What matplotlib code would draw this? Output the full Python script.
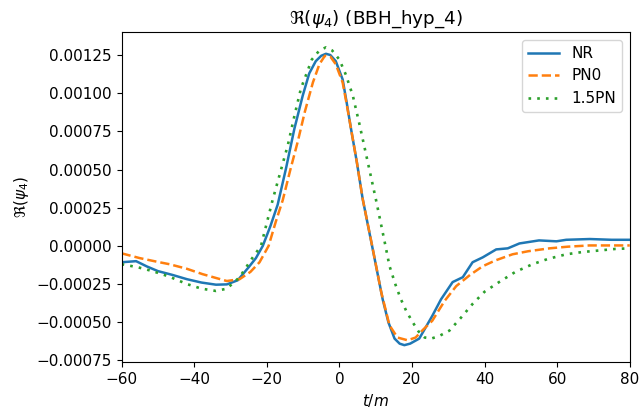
import numpy as np
import matplotlib.pyplot as plt

# NR waveform
t_nr = [-60, -56, -53, -50, -46, -42, -38, -34, -31, -28, -25, -23, -21.1, -19, -17,
        -14.7, -12.4, -10.1, -8.3, -6.5, -5, -3.7, -2.5, -1, 0.9, 2.0, 3.2, 4.8, 6.4,
        9.2, 11.9, 13.5, 15.2, 16.6, 17.9, 19.5, 22, 25.6, 28, 31.2, 34, 36.7, 39.5,
        43.2, 46.4, 49.6, 55, 59.8, 62.5, 69, 75, 80]
psi_nr = [-0.000107, -0.000100, -0.000135, -0.000165, -0.000190, -0.000218, -0.000240,
          -0.000254, -0.000252, -0.000225, -0.000140, -0.000080, 0.0, 0.00013, 0.00027,
          0.000508, 0.000767, 0.000984, 0.00113, 0.00121, 0.001245, 0.001258, 0.00125,
          0.00121, 0.00109, 0.00094, 0.000767, 0.00055, 0.00031, -0.000023, -0.000347,
          -0.0005, -0.000607, -0.00064, -0.00065, -0.00064, -0.000607, -0.000458,
          -0.00035, -0.000237, -0.000205, -0.000107, -0.000075, -0.000023, -0.000016,
          0.000016, 0.000036, 0.00003, 0.00004, 0.000045, 0.00004, 0.00004]

# PN0
t_pn0 = [-60, -55, -50, -46.8, -42, -37.7, -34, -31, -27.5, -24.5, -22, -19.5, -17.5,
         -15.6, -13.5, -11.5, -9.5, -7.3, -5.5, -4, -2.5, -1, 0.9, 2.0, 3.2, 4.8, 6.4,
         9.2, 11.5, 13.8, 16, 18.8, 21, 23, 25.6, 29, 32.2, 36, 39.5, 43, 47.7, 52,
         57.9, 63, 68.9, 75, 80]
psi_pn0 = [-0.0000487, -0.00008, -0.000105, -0.00012, -0.00015, -0.000185, -0.00021,
           -0.00023, -0.000218, -0.00017, -0.000107, 0.0, 0.00016, 0.0003, 0.0005,
           0.00068, 0.00088, 0.00107, 0.00119, 0.001245, 0.00124, 0.00119, 0.00107,
           0.00093, 0.000767, 0.00055, 0.00031, -0.00002, -0.0003, -0.00052, -0.0006,
           -0.000618, -0.0006, -0.00055, -0.00049, -0.00036, -0.000263, -0.00019,
           -0.000133, -0.000095, -0.000055, -0.000035, -0.000016, -0.000005, 0.000003,
           0.000003, 0.000003]

# 1.5PN
t_15pn = [-60, -55.5, -51.5, -47, -42, -38, -34, -31, -27.5, -24, -21.6, -20, -18.4,
          -16.3, -14.2, -12.4, -10.6, -7.6, -5.5, -3.7, -2, 0, 1.8, 3.7, 5.5, 7.4, 10.1,
          12.7, 13.8, 15.4, 16.9, 18.5, 20.2, 21.8, 23.5, 25.3, 27.5, 30.3, 33.5, 36.7,
          40, 44, 48.5, 53.2, 57.5, 62.5, 67, 71.6, 76, 80]
psi_15pn = [-0.00012, -0.00014, -0.000165, -0.0002, -0.00025, -0.00028, -0.000295,
            -0.00028, -0.000205, -0.00008, 0.0, 0.00015, 0.0003, 0.00048, 0.00066,
            0.00085, 0.00103, 0.00122, 0.00128, 0.0013, 0.00128, 0.00122, 0.00112,
            0.000984, 0.0008, 0.000594, 0.0003, 0.0, -0.000131, -0.00025, -0.000347,
            -0.00043, -0.0005, -0.00056, -0.0006, -0.000607, -0.00059, -0.000555,
            -0.00047, -0.00038, -0.0003, -0.000237, -0.00017, -0.00012, -0.000085,
            -0.000055, -0.00004, -0.00003, -0.00002, -0.000016]

plt.rcParams['font.size'] = 11

fig = plt.figure(figsize=(6.4, 4.17), dpi=100)
ax = fig.add_axes([0.19, 0.132, 0.794, 0.791])

ax.plot(t_nr, psi_nr, '-', lw=1.8, label='NR')
ax.plot(t_pn0, psi_pn0, '--', lw=1.8, label='PN0')
ax.plot(t_15pn, psi_15pn, linestyle=(0, (1, 2.3)), lw=1.9, label='1.5PN')

ax.set_xlim(-60, 80)
ax.set_ylim(-0.00076, 0.00140)
ax.set_yticks(np.arange(-0.00075, 0.0013, 0.00025))
ax.set_title(r'$\Re(\psi_4)$ (BBH_hyp_4)')
ax.set_xlabel(r'$t/m$')
ax.set_ylabel(r'$\Re(\psi_4)$')
ax.legend(loc='upper right')

fig.savefig('out.png')
